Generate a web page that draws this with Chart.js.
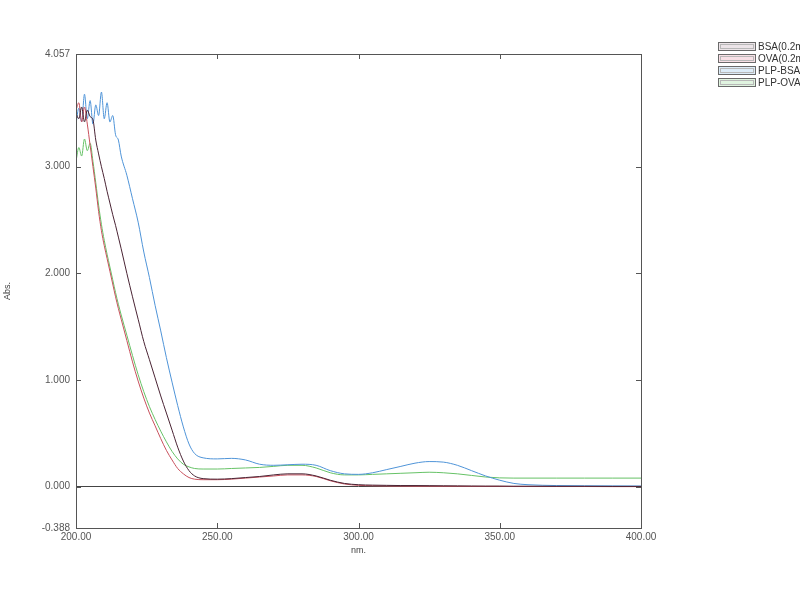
<!DOCTYPE html>
<html>
<head>
<meta charset="utf-8">
<script src="https://cdn.jsdelivr.net/npm/chart.js@4.4.0/dist/chart.umd.min.js"></script>
<style>
  html, body { margin: 0; padding: 0; background: #fff; overflow: hidden; }
  #wrap { width: 800px; height: 600px; }
</style>
</head>
<body>
<div id="wrap"><canvas id="uv" width="800" height="600"></canvas></div>
<script>
// UV-Vis absorbance spectra
const wavelengths = [
  200, 201, 202, 203, 204, 205, 206, 207, 208, 209, 210, 211, 212, 213, 214, 215, 216,
  218, 220, 222, 224, 226, 228, 230, 232, 234, 236, 238, 240, 242,
  245, 250, 255, 260, 265, 270, 275, 280, 285, 290, 295, 300, 305, 310, 315, 320, 325, 330, 335, 340, 345, 350, 355, 360,
  370, 380, 390, 400
];
const bsa = [
  3.50, 3.45, 3.56, 3.42, 3.53, 3.47, 3.44, 3.25, 3.12, 3.00, 2.89, 2.77, 2.66, 2.55, 2.45, 2.34, 2.23,
  2.00, 1.78, 1.57, 1.36, 1.19, 1.02, 0.85, 0.69, 0.53, 0.37, 0.24, 0.15, 0.10,
  0.075, 0.07, 0.075, 0.085, 0.095, 0.11, 0.12, 0.12, 0.10, 0.06, 0.03, 0.018, 0.014, 0.012, 0.01, 0.01, 0.009, 0.008, 0.007, 0.006, 0.005, 0.005, 0.004, 0.004,
  0.003, 0.003, 0.002, 0.002
];
const ova = [
  3.53, 3.60, 3.42, 3.56, 3.40, 3.20, 3.00, 2.80, 2.58, 2.40, 2.26, 2.14, 2.02, 1.90, 1.78, 1.67, 1.57,
  1.37, 1.17, 0.99, 0.83, 0.69, 0.57, 0.45, 0.34, 0.25, 0.17, 0.12, 0.085, 0.07,
  0.065, 0.065, 0.07, 0.08, 0.09, 0.10, 0.11, 0.11, 0.095, 0.055, 0.025, 0.012, 0.008, 0.006, 0.005, 0.004, 0.004, 0.003, 0.003, 0.002, 0.002, 0.002, 0.001, 0.001,
  0.001, 0.001, 0.0, 0.0
];
const plpBsa = [
  3.40, 3.55, 3.42, 3.68, 3.45, 3.62, 3.40, 3.58, 3.48, 3.70, 3.45, 3.60, 3.42, 3.48, 3.30, 3.25, 3.10,
  2.92, 2.70, 2.48, 2.20, 1.96, 1.70, 1.46, 1.21, 0.98, 0.76, 0.56, 0.40, 0.31,
  0.27, 0.26, 0.265, 0.25, 0.21, 0.20, 0.205, 0.21, 0.20, 0.15, 0.12, 0.115, 0.13, 0.16, 0.19, 0.22, 0.235, 0.23, 0.20, 0.15, 0.10, 0.06, 0.03, 0.018,
  0.01, 0.008, 0.007, 0.006
];
const plpOva = [
  3.05, 3.18, 3.10, 3.26, 3.15, 3.22, 3.05, 2.85, 2.64, 2.46, 2.31, 2.18, 2.06, 1.94, 1.82, 1.71, 1.61,
  1.42, 1.23, 1.05, 0.89, 0.75, 0.63, 0.52, 0.42, 0.33, 0.26, 0.21, 0.185, 0.17,
  0.165, 0.165, 0.17, 0.175, 0.18, 0.19, 0.20, 0.20, 0.175, 0.13, 0.11, 0.11, 0.115, 0.12, 0.125, 0.13, 0.135, 0.13, 0.12, 0.105, 0.09, 0.082, 0.08, 0.08,
  0.08, 0.08, 0.08, 0.08
];
const seriesLabels = ["BSA(0.2mg/mL)", "OVA(0.2mg/mL)", "PLP-BSA", "PLP-OVA"];
const yTickValues = [-0.388, 0, 1, 2, 3, 4.057];
const xTickValues = [200, 250, 300, 350, 400];

const lineColors = ["#4a2434", "#c8505c", "#4f94d8", "#66c266"];
const boxFills = ["#ece4e8", "#f8e0e6", "#dcecf8", "#e0f4e0"];
const frameColor = "#555";

const toPoints = ys => wavelengths.map((x, i) => ({ x, y: ys[i] }));

// frame, inward tick marks and the legend, drawn like the instrument software does
const decorations = {
  id: "decorations",
  afterDraw(chart) {
    const { ctx, chartArea: a, scales } = chart;
    ctx.save();
    ctx.strokeStyle = frameColor;
    ctx.lineWidth = 1;
    ctx.strokeRect(Math.round(a.left) + 0.5, Math.round(a.top) + 0.5,
                   Math.round(a.right - a.left), Math.round(a.bottom - a.top));
    ctx.beginPath();
    yTickValues.forEach(v => {
      const y = Math.round(scales.y.getPixelForValue(v)) + 0.5;
      ctx.moveTo(a.left, y); ctx.lineTo(a.left + 5, y);
      ctx.moveTo(a.right, y); ctx.lineTo(a.right - 5, y);
    });
    xTickValues.forEach(v => {
      const x = Math.round(scales.x.getPixelForValue(v)) + 0.5;
      ctx.moveTo(x, a.bottom); ctx.lineTo(x, a.bottom - 5);
      ctx.moveTo(x, a.top); ctx.lineTo(x, a.top + 5);
    });
    ctx.stroke();

    // legend, top right, runs off the page edge
    ctx.font = "10px 'Liberation Sans', Arial, sans-serif";
    ctx.textBaseline = "middle";
    chart.data.datasets.forEach((ds, i) => {
      const bx = 718.5, by = 42.5 + i * 12;
      ctx.fillStyle = boxFills[i];
      ctx.fillRect(bx, by, 37, 8);
      ctx.strokeStyle = "#6a6a6a";
      ctx.strokeRect(bx, by, 37, 8);
      ctx.strokeStyle = "#b8b8b8";
      ctx.strokeRect(bx + 2, by + 2, 33, 4);
      ctx.fillStyle = "#333";
      ctx.fillText(ds.label, 758, by + 4.5);
    });
    ctx.restore();
  }
};

const datasets = [bsa, ova, plpBsa, plpOva].map((ys, i) => ({
  label: seriesLabels[i],
  data: toPoints(ys),
  borderColor: lineColors[i],
  backgroundColor: lineColors[i],
  borderWidth: 1,
  pointRadius: 0,
  cubicInterpolationMode: "monotone"
}));

const tickFont = { family: "'Liberation Sans', Arial, sans-serif", size: 10 };

new Chart(document.getElementById("uv"), {
  type: "line",
  data: { datasets },
  options: {
    responsive: false,
    animation: false,
    devicePixelRatio: 1,
    layout: { padding: { top: 54, right: 159, bottom: 42, left: 0 } },
    plugins: { legend: { display: false }, tooltip: { enabled: false } },
    scales: {
      x: {
        type: "linear",
        min: 200,
        max: 400,
        afterBuildTicks: s => { s.ticks = xTickValues.map(v => ({ value: v })); },
        afterFit: s => { s.height = 30; },
        grid: { display: false, drawTicks: false },
        border: { display: false },
        ticks: { color: "#555", font: tickFont, padding: 3, maxRotation: 0,
                 callback: v => Number(v).toFixed(2) },
        title: { display: true, text: "nm.", color: "#444", font: { ...tickFont, size: 9 }, padding: { top: 0, bottom: 2 } }
      },
      y: {
        min: -0.388,
        max: 4.057,
        afterBuildTicks: s => { s.ticks = yTickValues.map(v => ({ value: v })); },
        afterFit: s => { s.width = 76; },
        grid: {
          drawTicks: false,
          color: c => (c.tick && c.tick.value === 0 ? "#444" : "rgba(0,0,0,0)")
        },
        border: { display: false },
        ticks: { color: "#555", font: tickFont, padding: 6,
                 callback: v => Number(v).toFixed(3) },
        title: { display: true, text: "Abs.", color: "#444", font: { ...tickFont, size: 9 }, padding: { top: 2, bottom: 0 } }
      }
    }
  },
  plugins: [decorations]
});
</script>
</body>
</html>
